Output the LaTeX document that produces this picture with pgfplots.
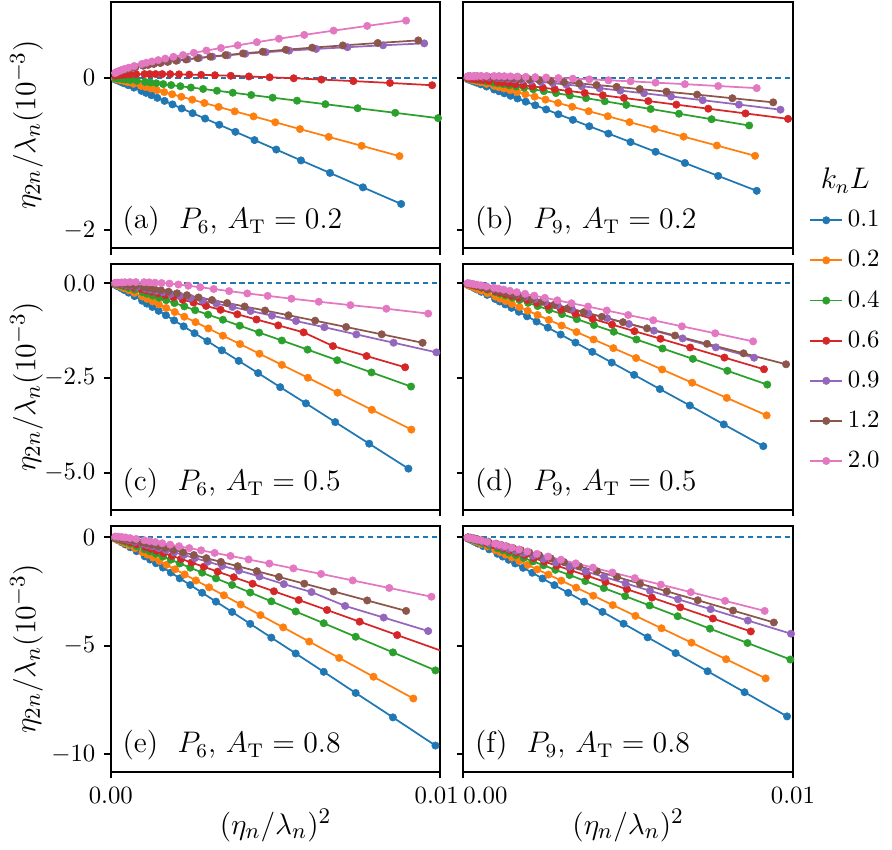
\documentclass[border=0pt]{standalone}
\usepackage{pgfplots}
\pgfplotsset{compat=1.18}
\usepgfplotslibrary{groupplots}
\definecolor{c0}{HTML}{1F77B4}
\definecolor{c1}{HTML}{FF7F0E}
\definecolor{c2}{HTML}{2CA02C}
\definecolor{c3}{HTML}{D62728}
\definecolor{c4}{HTML}{9467BD}
\definecolor{c5}{HTML}{8C564B}
\definecolor{c6}{HTML}{E377C2}
\pgfplotsset{
  ser/.style={color=#1, line width=0.7pt, mark=*, mark size=1.5pt, mark options={solid,fill=#1,draw=#1,line width=0.2pt}},
  zl/.style={forget plot, c0, line width=0.75pt, dash pattern=on 2.2pt off 1.5pt},
}
\newcommand{\plab}[1]{\node[anchor=south west, inner sep=0pt] at (rel axis cs:0.034,0.045) {\fontsize{12}{14}\selectfont #1};}
\begin{document}
\begin{tikzpicture}
\begin{groupplot}[
  group style={group size=2 by 3, horizontal sep=9.3pt, vertical sep=6.4pt, x descriptions at=edge bottom, y descriptions at=edge left},
  scale only axis, width=132.9pt, height=99.2pt,
  xmin=0, xmax=10, xtick={0,10}, xticklabels={$0.00$,$0.01$},
  tick align=outside, tick pos=left, major tick length=2.7pt,
  axis line style={line width=0.8pt},
  major tick style={line width=0.8pt, black},
  xlabel={$(\eta_n/\lambda_n)^2$}, ylabel={$\eta_{2n}/\lambda_n(10^{-3})$},
  xlabel style={at={(axis description cs:0.5,-0.218)}, anchor=center, font=\fontsize{12.4}{15}\selectfont},
  ylabel style={at={(axis description cs:-0.256,0.5)}, anchor=center, font=\fontsize{12.6}{15}\selectfont},
  legend image code/.code={\draw[mark repeat=2,mark phase=2] plot coordinates {(0pt,0pt) (6.4pt,0pt) (12.8pt,0pt)};},
]
% (a)
\nextgroupplot[ymin=-2.23, ymax=0.99, ytick={-2,0}]
\addplot[zl] coordinates {(0,0) (10,0)};
\addplot[ser=c0] coordinates {(8.81,-1.654) (7.65,-1.437) (6.65,-1.248) (5.77,-1.084) (5.02,-0.942) (4.36,-0.818) (3.78,-0.710) (3.29,-0.617) (2.86,-0.536) (2.48,-0.466) (2.15,-0.404) (1.87,-0.351) (1.63,-0.305) (1.41,-0.265) (1.23,-0.230) (1.07,-0.200) (0.93,-0.174) (0.70,-0.131) (0.53,-0.099) (0.40,-0.075) (0.30,-0.056) (0.20,-0.037) (0.13,-0.024)};
\addplot[ser=c1] coordinates {(8.76,-1.028) (7.61,-0.893) (6.61,-0.776) (5.74,-0.674) (4.99,-0.585) (4.33,-0.508) (3.76,-0.442) (3.27,-0.384) (2.84,-0.333) (2.47,-0.289) (2.14,-0.251) (1.86,-0.218) (1.62,-0.190) (1.40,-0.165) (1.22,-0.143) (1.06,-0.124) (0.92,-0.108) (0.69,-0.081) (0.52,-0.062) (0.40,-0.046) (0.30,-0.035) (0.20,-0.023) (0.13,-0.015)};
\addplot[ser=c2] coordinates {(9.93,-0.531) (8.63,-0.461) (7.49,-0.401) (6.51,-0.348) (5.65,-0.302) (4.91,-0.263) (4.26,-0.228) (3.70,-0.198) (3.22,-0.172) (2.80,-0.149) (2.43,-0.130) (2.11,-0.113) (1.83,-0.098) (1.59,-0.085) (1.38,-0.074) (1.20,-0.064) (1.04,-0.056) (0.79,-0.042) (0.59,-0.032) (0.45,-0.024) (0.34,-0.018) (0.22,-0.012) (0.14,-0.008)};
\addplot[ser=c3] coordinates {(9.75,-0.100) (8.47,-0.070) (7.36,-0.046) (6.39,-0.026) (5.55,-0.009) (4.82,0.004) (4.19,0.015) (3.64,0.024) (3.16,0.031) (2.74,0.036) (2.38,0.040) (2.07,0.043) (1.80,0.045) (1.56,0.046) (1.36,0.046) (1.18,0.046) (1.02,0.046) (0.77,0.044) (0.58,0.042) (0.44,0.039) (0.33,0.035) (0.22,0.031) (0.14,0.026)};
\addplot[ser=c4] coordinates {(9.51,0.448) (8.26,0.423) (7.18,0.398) (6.23,0.375) (5.41,0.353) (4.70,0.332) (4.08,0.312) (3.55,0.292) (3.08,0.274) (2.68,0.257) (2.33,0.241) (2.02,0.226) (1.75,0.212) (1.52,0.198) (1.32,0.186) (1.15,0.174) (1.00,0.163) (0.75,0.142) (0.57,0.124) (0.43,0.108) (0.32,0.095) (0.21,0.077) (0.14,0.063)};
\addplot[ser=c5] coordinates {(9.33,0.487) (8.10,0.453) (7.04,0.421) (6.11,0.392) (5.31,0.365) (4.61,0.339) (4.01,0.316) (3.48,0.294) (3.02,0.274) (2.63,0.255) (2.28,0.237) (1.98,0.221) (1.72,0.206) (1.50,0.191) (1.30,0.178) (1.13,0.166) (0.98,0.155) (0.74,0.134) (0.56,0.116) (0.42,0.101) (0.32,0.088) (0.21,0.071) (0.14,0.057)};
\addplot[ser=c6] coordinates {(8.96,0.746) (7.78,0.677) (6.76,0.615) (5.87,0.559) (5.10,0.509) (4.43,0.464) (3.85,0.423) (3.34,0.387) (2.90,0.354) (2.52,0.324) (2.19,0.296) (1.90,0.272) (1.65,0.249) (1.44,0.229) (1.25,0.211) (1.08,0.194) (0.94,0.178) (0.71,0.151) (0.54,0.129) (0.40,0.110) (0.30,0.094) (0.20,0.075) (0.13,0.059)};
\plab{(a)\ \ $P_6$, $A_{\mathrm{T}}=0.2$}
% (b)
\nextgroupplot[ymin=-2.23, ymax=0.99, ytick={-2,0},
  legend style={draw=none, fill=none, at={(1.026,0.196)}, anchor=north west, row sep=4pt, cells={anchor=west}}]
\addplot[zl] coordinates {(0,0) (10,0)};
\addplot[ser=c0] coordinates {(8.90,-1.482) (7.73,-1.287) (6.72,-1.118) (5.83,-0.971) (5.07,-0.844) (4.40,-0.733) (3.82,-0.637) (3.32,-0.553) (2.88,-0.480) (2.51,-0.417) (2.18,-0.362) (1.89,-0.315) (1.64,-0.273) (1.43,-0.238) (1.24,-0.206) (1.08,-0.179) (0.93,-0.156) (0.70,-0.117) (0.53,-0.089) (0.40,-0.067) (0.30,-0.050) (0.20,-0.033) (0.13,-0.022)};
\addplot[ser=c1] coordinates {(8.85,-1.024) (7.69,-0.889) (6.68,-0.773) (5.80,-0.671) (5.04,-0.583) (4.38,-0.506) (3.80,-0.440) (3.30,-0.382) (2.87,-0.332) (2.49,-0.288) (2.16,-0.250) (1.88,-0.218) (1.63,-0.189) (1.42,-0.164) (1.23,-0.143) (1.07,-0.124) (0.93,-0.108) (0.70,-0.081) (0.53,-0.061) (0.40,-0.046) (0.30,-0.035) (0.20,-0.023) (0.13,-0.015)};
\addplot[ser=c2] coordinates {(8.67,-0.627) (7.53,-0.545) (6.54,-0.473) (5.68,-0.411) (4.94,-0.357) (4.29,-0.310) (3.72,-0.269) (3.23,-0.234) (2.81,-0.203) (2.44,-0.177) (2.12,-0.153) (1.84,-0.133) (1.60,-0.116) (1.39,-0.101) (1.21,-0.087) (1.05,-0.076) (0.91,-0.066) (0.69,-0.050) (0.52,-0.037) (0.39,-0.028) (0.29,-0.021) (0.19,-0.014) (0.13,-0.009)};
\addplot[ser=c3] coordinates {(9.85,-0.540) (8.56,-0.469) (7.43,-0.407) (6.46,-0.354) (5.61,-0.307) (4.87,-0.267) (4.23,-0.232) (3.68,-0.201) (3.19,-0.175) (2.77,-0.152) (2.41,-0.132) (2.09,-0.115) (1.82,-0.100) (1.58,-0.087) (1.37,-0.075) (1.19,-0.065) (1.03,-0.057) (0.78,-0.043) (0.59,-0.032) (0.44,-0.024) (0.33,-0.018) (0.22,-0.012) (0.14,-0.008)};
\addplot[ser=c4] coordinates {(9.62,-0.420) (8.36,-0.353) (7.26,-0.296) (6.30,-0.247) (5.48,-0.205) (4.76,-0.170) (4.13,-0.139) (3.59,-0.113) (3.12,-0.091) (2.71,-0.073) (2.35,-0.057) (2.04,-0.044) (1.77,-0.033) (1.54,-0.023) (1.34,-0.016) (1.16,-0.009) (1.01,-0.004) (0.76,0.004) (0.58,0.009) (0.43,0.012) (0.33,0.013) (0.21,0.014) (0.14,0.013)};
\addplot[ser=c5] coordinates {(9.40,-0.324) (8.16,-0.270) (7.09,-0.223) (6.16,-0.184) (5.35,-0.150) (4.65,-0.121) (4.04,-0.097) (3.51,-0.077) (3.05,-0.059) (2.65,-0.045) (2.30,-0.033) (2.00,-0.023) (1.73,-0.014) (1.51,-0.007) (1.31,-0.002) (1.14,0.003) (0.99,0.007) (0.74,0.012) (0.56,0.015) (0.42,0.017) (0.32,0.017) (0.21,0.016) (0.14,0.015)};
\addplot[ser=c6] coordinates {(8.90,-0.138) (7.73,-0.110) (6.72,-0.086) (5.83,-0.066) (5.07,-0.049) (4.40,-0.035) (3.82,-0.023) (3.32,-0.014) (2.88,-0.006) (2.51,0.001) (2.18,0.006) (1.89,0.010) (1.64,0.014) (1.43,0.016) (1.24,0.018) (1.08,0.020) (0.93,0.021) (0.70,0.021) (0.53,0.021) (0.40,0.021) (0.30,0.019) (0.20,0.017) (0.13,0.015)};
\legend{0.1,0.2,0.4,0.6,0.9,1.2,2.0}
\plab{(b)\ \ $P_9$, $A_{\mathrm{T}}=0.2$}
% (c)
\nextgroupplot[ymin=-5.98, ymax=0.51, ytick={-5,-2.5,0}, yticklabel style={/pgf/number format/.cd,fixed,fixed zerofill,precision=1}]
\addplot[zl] coordinates {(0,0) (10,0)};
\addplot[ser=c0] coordinates {(9.03,-4.894) (7.84,-4.236) (6.81,-3.667) (5.92,-3.172) (5.14,-2.744) (4.47,-2.373) (3.88,-2.051) (3.37,-1.772) (2.93,-1.530) (2.54,-1.321) (2.21,-1.140) (1.92,-0.983) (1.67,-0.847) (1.45,-0.730) (1.26,-0.628) (1.09,-0.540) (0.95,-0.464) (0.72,-0.342) (0.54,-0.251) (0.41,-0.183) (0.31,-0.132) (0.20,-0.080) (0.13,-0.047)};
\addplot[ser=c1] coordinates {(9.12,-3.864) (7.92,-3.341) (6.88,-2.889) (5.98,-2.496) (5.19,-2.156) (4.51,-1.862) (3.92,-1.607) (3.40,-1.386) (2.96,-1.195) (2.57,-1.029) (2.23,-0.886) (1.94,-0.762) (1.68,-0.655) (1.46,-0.563) (1.27,-0.483) (1.10,-0.414) (0.96,-0.354) (0.72,-0.258) (0.55,-0.188) (0.41,-0.135) (0.31,-0.096) (0.20,-0.056) (0.13,-0.031)};
\addplot[ser=c2] coordinates {(9.11,-2.728) (7.91,-2.356) (6.87,-2.034) (5.97,-1.754) (5.19,-1.513) (4.50,-1.304) (3.91,-1.122) (3.40,-0.966) (2.95,-0.831) (2.56,-0.714) (2.23,-0.612) (1.93,-0.525) (1.68,-0.450) (1.46,-0.385) (1.27,-0.329) (1.10,-0.280) (0.96,-0.239) (0.72,-0.172) (0.54,-0.123) (0.41,-0.087) (0.31,-0.060) (0.20,-0.033) (0.13,-0.017)};
\addplot[ser=c3] coordinates {(8.93,-2.220) (7.76,-1.923) (6.74,-1.660) (5.85,-1.298) (5.08,-1.115) (4.42,-0.959) (3.84,-0.822) (3.33,-0.703) (2.89,-0.601) (2.51,-0.513) (2.18,-0.438) (1.90,-0.374) (1.65,-0.318) (1.43,-0.269) (1.24,-0.227) (1.08,-0.192) (0.94,-0.162) (0.71,-0.114) (0.53,-0.077) (0.40,-0.051) (0.30,-0.033) (0.20,-0.015) (0.13,-0.004)};
\addplot[ser=c4] coordinates {(9.88,-1.826) (8.58,-1.572) (7.45,-1.353) (6.48,-1.163) (5.62,-0.999) (4.89,-0.857) (4.24,-0.735) (3.69,-0.629) (3.20,-0.538) (2.78,-0.459) (2.42,-0.391) (2.10,-0.333) (1.82,-0.283) (1.58,-0.240) (1.38,-0.203) (1.19,-0.171) (1.04,-0.144) (0.78,-0.100) (0.59,-0.069) (0.45,-0.046) (0.34,-0.029) (0.22,-0.013) (0.14,-0.003)};
\addplot[ser=c5] coordinates {(9.46,-1.574) (8.22,-1.350) (7.14,-1.157) (6.20,-0.990) (5.39,-0.847) (4.68,-0.722) (4.06,-0.616) (3.53,-0.524) (3.07,-0.445) (2.66,-0.377) (2.31,-0.318) (2.01,-0.268) (1.75,-0.225) (1.52,-0.188) (1.32,-0.157) (1.14,-0.130) (0.99,-0.107) (0.75,-0.071) (0.57,-0.045) (0.43,-0.026) (0.32,-0.013) (0.21,-0.001) (0.14,0.005)};
\addplot[ser=c6] coordinates {(9.63,-0.803) (8.36,-0.675) (7.27,-0.580) (6.31,-0.490) (5.48,-0.410) (4.76,-0.335) (4.14,-0.272) (3.59,-0.210) (3.12,-0.155) (2.71,-0.108) (2.35,-0.068) (2.05,-0.036) (1.78,-0.012) (1.54,0.002) (1.34,0.012) (1.16,0.020) (1.01,0.025) (0.76,0.028) (0.58,0.027) (0.43,0.024) (0.33,0.020) (0.21,0.015) (0.14,0.011)};
\plab{(c)\ \ $P_6$, $A_{\mathrm{T}}=0.5$}
% (d)
\nextgroupplot[ymin=-5.98, ymax=0.51, ytick={-5,-2.5,0}]
\addplot[zl] coordinates {(0,0) (10,0)};
\addplot[ser=c0] coordinates {(9.10,-4.302) (7.90,-3.727) (6.87,-3.228) (5.96,-2.795) (5.18,-2.420) (4.50,-2.095) (3.91,-1.812) (3.40,-1.568) (2.95,-1.356) (2.56,-1.172) (2.22,-1.013) (1.93,-0.875) (1.68,-0.755) (1.46,-0.652) (1.27,-0.562) (1.10,-0.484) (0.96,-0.417) (0.72,-0.309) (0.54,-0.228) (0.41,-0.168) (0.31,-0.123) (0.20,-0.076) (0.13,-0.046)};
\addplot[ser=c1] coordinates {(9.20,-3.489) (7.99,-3.027) (6.94,-2.627) (6.03,-2.279) (5.24,-1.977) (4.55,-1.715) (3.95,-1.487) (3.43,-1.290) (2.98,-1.119) (2.59,-0.970) (2.25,-0.840) (1.95,-0.729) (1.70,-0.631) (1.47,-0.547) (1.28,-0.474) (1.11,-0.411) (0.97,-0.356) (0.73,-0.266) (0.55,-0.200) (0.41,-0.149) (0.31,-0.111) (0.21,-0.071) (0.13,-0.046)};
\addplot[ser=c2] coordinates {(9.22,-2.677) (8.01,-2.313) (6.96,-1.997) (6.04,-1.724) (5.25,-1.487) (4.56,-1.282) (3.96,-1.105) (3.44,-0.951) (2.99,-0.818) (2.60,-0.704) (2.25,-0.604) (1.96,-0.519) (1.70,-0.445) (1.48,-0.381) (1.28,-0.326) (1.11,-0.278) (0.97,-0.237) (0.73,-0.172) (0.55,-0.123) (0.42,-0.087) (0.31,-0.061) (0.21,-0.034) (0.13,-0.018)};
\addplot[ser=c3] coordinates {(9.12,-2.272) (7.92,-1.964) (6.88,-1.698) (5.98,-1.467) (5.19,-1.267) (4.51,-1.093) (3.92,-0.943) (3.40,-0.813) (2.96,-0.701) (2.57,-0.603) (2.23,-0.519) (1.94,-0.446) (1.68,-0.384) (1.46,-0.329) (1.27,-0.282) (1.10,-0.242) (0.96,-0.207) (0.72,-0.150) (0.55,-0.109) (0.41,-0.078) (0.31,-0.055) (0.20,-0.032) (0.13,-0.018)};
\addplot[ser=c4] coordinates {(8.82,-1.967) (7.66,-1.694) (6.65,-1.458) (5.78,-1.253) (5.02,-1.077) (4.36,-0.924) (3.79,-0.792) (3.29,-0.678) (2.86,-0.581) (2.48,-0.496) (2.16,-0.423) (1.87,-0.360) (1.63,-0.306) (1.41,-0.260) (1.23,-0.220) (1.07,-0.185) (0.93,-0.156) (0.70,-0.109) (0.53,-0.075) (0.40,-0.050) (0.30,-0.032) (0.20,-0.014) (0.13,-0.004)};
\addplot[ser=c5] coordinates {(9.79,-2.141) (8.50,-1.851) (7.39,-1.600) (6.42,-1.382) (5.57,-1.193) (4.84,-1.030) (4.20,-0.888) (3.65,-0.766) (3.17,-0.660) (2.76,-0.568) (2.39,-0.489) (2.08,-0.420) (1.81,-0.361) (1.57,-0.310) (1.36,-0.266) (1.18,-0.228) (1.03,-0.195) (0.78,-0.142) (0.59,-0.103) (0.44,-0.074) (0.33,-0.052) (0.22,-0.030) (0.14,-0.017)};
\addplot[ser=c6] coordinates {(8.79,-1.537) (7.64,-1.323) (6.63,-1.139) (5.76,-0.979) (5.00,-0.841) (4.35,-0.722) (3.78,-0.618) (3.28,-0.530) (2.85,-0.453) (2.47,-0.387) (2.15,-0.330) (1.87,-0.281) (1.62,-0.238) (1.41,-0.202) (1.22,-0.171) (1.06,-0.144) (0.92,-0.121) (0.70,-0.085) (0.53,-0.058) (0.40,-0.039) (0.30,-0.025) (0.20,-0.011) (0.13,-0.003)};
\plab{(d)\ \ $P_9$, $A_{\mathrm{T}}=0.5$}
% (e)
\nextgroupplot[ymin=-10.79, ymax=0.53, ytick={-10,-5,0}, xticklabels={$0.00$,\hspace*{-3pt}$0.01$}]
\addplot[zl] coordinates {(0,0) (10,0)};
\addplot[ser=c0] coordinates {(9.85,-9.589) (8.56,-8.292) (7.43,-7.169) (6.46,-6.196) (5.61,-5.352) (4.87,-4.622) (4.23,-3.988) (3.68,-3.441) (3.19,-2.966) (2.77,-2.556) (2.41,-2.200) (2.09,-1.894) (1.82,-1.628) (1.58,-1.399) (1.37,-1.200) (1.19,-1.029) (1.03,-0.880) (0.78,-0.643) (0.59,-0.467) (0.44,-0.336) (0.33,-0.239) (0.22,-0.141) (0.14,-0.079)};
\addplot[ser=c1] coordinates {(9.18,-7.424) (7.97,-6.423) (6.93,-5.556) (6.02,-4.804) (5.23,-4.152) (4.54,-3.587) (3.94,-3.098) (3.43,-2.675) (2.98,-2.308) (2.58,-1.990) (2.24,-1.715) (1.95,-1.477) (1.69,-1.272) (1.47,-1.094) (1.28,-0.940) (1.11,-0.807) (0.96,-0.692) (0.73,-0.507) (0.55,-0.370) (0.41,-0.268) (0.31,-0.192) (0.20,-0.115) (0.13,-0.066)};
\addplot[ser=c2] coordinates {(9.85,-6.131) (8.56,-5.301) (7.43,-4.582) (6.46,-3.960) (5.61,-3.420) (4.87,-2.952) (4.23,-2.547) (3.68,-2.197) (3.19,-1.894) (2.77,-1.631) (2.41,-1.404) (2.09,-1.207) (1.82,-1.037) (1.58,-0.892) (1.37,-0.764) (1.19,-0.655) (1.03,-0.560) (0.78,-0.409) (0.59,-0.296) (0.44,-0.213) (0.33,-0.151) (0.22,-0.088) (0.14,-0.049)};
\addplot[ser=c3] coordinates {(10.01,-5.219) (8.69,-4.506) (7.55,-3.888) (6.56,-3.353) (5.70,-2.890) (4.95,-2.490) (4.30,-2.143) (3.73,-1.844) (3.24,-1.585) (2.82,-1.361) (2.45,-1.167) (2.13,-1.000) (1.85,-0.856) (1.60,-0.732) (1.39,-0.624) (1.21,-0.532) (1.05,-0.453) (0.79,-0.325) (0.60,-0.231) (0.45,-0.162) (0.34,-0.112) (0.22,-0.061) (0.15,-0.030)};
\addplot[ser=c4] coordinates {(9.63,-4.320) (8.28,-3.699) (7.11,-3.164) (6.09,-2.525) (5.25,-2.160) (4.51,-1.808) (3.89,-1.534) (3.38,-1.320) (2.94,-1.129) (2.55,-0.964) (2.21,-0.821) (1.92,-0.699) (1.67,-0.593) (1.45,-0.503) (1.26,-0.425) (1.10,-0.358) (0.95,-0.300) (0.72,-0.209) (0.54,-0.143) (0.41,-0.095) (0.31,-0.060) (0.20,-0.026) (0.13,-0.006)};
\addplot[ser=c5] coordinates {(8.96,-3.392) (7.78,-2.912) (6.76,-2.497) (5.87,-2.139) (5.10,-1.830) (4.43,-1.564) (3.85,-1.334) (3.34,-1.136) (2.90,-0.966) (2.52,-0.820) (2.19,-0.694) (1.90,-0.586) (1.65,-0.493) (1.44,-0.413) (1.25,-0.345) (1.08,-0.287) (0.94,-0.237) (0.71,-0.159) (0.54,-0.102) (0.40,-0.062) (0.30,-0.034) (0.20,-0.007) (0.13,0.008)};
\addplot[ser=c6] coordinates {(9.73,-2.740) (8.45,-2.338) (7.34,-1.991) (6.38,-1.692) (5.54,-1.436) (4.81,-1.215) (4.18,-1.026) (3.63,-0.863) (3.15,-0.724) (2.74,-0.605) (2.38,-0.503) (2.07,-0.416) (1.80,-0.342) (1.56,-0.279) (1.35,-0.225) (1.18,-0.180) (1.02,-0.141) (0.77,-0.082) (0.58,-0.040) (0.44,-0.012) (0.33,0.008) (0.22,0.024) (0.14,0.031)};
\plab{(e)\ \ $P_6$, $A_{\mathrm{T}}=0.8$}
% (f)
\nextgroupplot[ymin=-10.79, ymax=0.53, ytick={-10,-5,0}, xticklabels={\makebox[0pt][l]{$0.00$},$0.01$}]
\addplot[zl] coordinates {(0,0) (10,0)};
\addplot[ser=c0] coordinates {(9.82,-8.247) (8.53,-7.134) (7.41,-6.170) (6.44,-5.334) (5.59,-4.609) (4.86,-3.982) (4.22,-3.437) (3.66,-2.967) (3.18,-2.560) (2.76,-2.207) (2.40,-1.901) (2.09,-1.637) (1.81,-1.409) (1.57,-1.211) (1.37,-1.040) (1.19,-0.892) (1.03,-0.764) (0.78,-0.560) (0.59,-0.408) (0.44,-0.295) (0.33,-0.211) (0.22,-0.125) (0.14,-0.071)};
\addplot[ser=c1] coordinates {(9.17,-6.497) (7.97,-5.616) (6.92,-4.853) (6.01,-4.192) (5.22,-3.620) (4.53,-3.124) (3.94,-2.694) (3.42,-2.322) (2.97,-2.001) (2.58,-1.722) (2.24,-1.482) (1.95,-1.274) (1.69,-1.094) (1.47,-0.939) (1.28,-0.805) (1.11,-0.689) (0.96,-0.589) (0.73,-0.428) (0.55,-0.310) (0.41,-0.221) (0.31,-0.156) (0.20,-0.091) (0.13,-0.049)};
\addplot[ser=c2] coordinates {(9.92,-5.630) (8.62,-4.869) (7.48,-4.210) (6.50,-3.638) (5.65,-3.144) (4.91,-2.715) (4.26,-2.343) (3.70,-2.022) (3.22,-1.743) (2.79,-1.502) (2.43,-1.293) (2.11,-1.113) (1.83,-0.957) (1.59,-0.823) (1.38,-0.706) (1.20,-0.605) (1.04,-0.518) (0.79,-0.379) (0.59,-0.275) (0.45,-0.198) (0.34,-0.141) (0.22,-0.083) (0.14,-0.047)};
\addplot[ser=c3] coordinates {(8.72,-4.338) (7.57,-3.743) (6.58,-3.227) (5.72,-2.781) (4.96,-2.396) (4.31,-2.062) (3.75,-1.773) (3.25,-1.523) (2.83,-1.308) (2.45,-1.121) (2.13,-0.961) (1.85,-0.823) (1.61,-0.702) (1.40,-0.599) (1.21,-0.510) (1.05,-0.434) (0.92,-0.368) (0.69,-0.263) (0.52,-0.186) (0.39,-0.129) (0.30,-0.087) (0.19,-0.046) (0.13,-0.021)};
\addplot[ser=c4] coordinates {(9.94,-4.442) (8.63,-3.836) (7.50,-3.312) (6.51,-2.858) (5.66,-2.465) (4.92,-2.125) (4.27,-1.830) (3.71,-1.576) (3.22,-1.355) (2.80,-1.165) (2.43,-1.000) (2.11,-0.858) (1.83,-0.735) (1.59,-0.630) (1.38,-0.538) (1.20,-0.459) (1.04,-0.391) (0.79,-0.282) (0.59,-0.202) (0.45,-0.143) (0.34,-0.099) (0.22,-0.055) (0.15,-0.028)};
\addplot[ser=c5] coordinates {(9.42,-3.926) (8.18,-3.377) (7.11,-2.902) (6.17,-2.492) (5.36,-2.138) (4.66,-1.832) (4.05,-1.567) (3.51,-1.340) (3.05,-1.143) (2.65,-0.974) (2.30,-0.828) (2.00,-0.703) (1.74,-0.596) (1.51,-0.503) (1.31,-0.423) (1.14,-0.355) (0.99,-0.297) (0.75,-0.205) (0.56,-0.138) (0.42,-0.089) (0.32,-0.054) (0.21,-0.021) (0.14,-0.001)};
\addplot[ser=c6] coordinates {(9.14,-3.393) (7.94,-2.931) (6.90,-2.531) (5.99,-2.184) (5.20,-1.884) (4.52,-1.625) (3.93,-1.400) (3.41,-1.206) (2.96,-1.037) (2.57,-0.892) (2.23,-0.766) (1.94,-0.658) (1.69,-0.564) (1.47,-0.483) (1.27,-0.413) (1.11,-0.353) (0.96,-0.301) (0.72,-0.217) (0.55,-0.156) (0.41,-0.111) (0.31,-0.077) (0.20,-0.043) (0.13,-0.023)};
\plab{(f)\ \ $P_9$, $A_{\mathrm{T}}=0.8$}
\end{groupplot}
\node at ([xshift=21.1pt,yshift=27.1pt]group c2r1.south east) {\large $k_nL$};
\path ([xshift=-44.7pt,yshift=0.8pt]group c1r1.north west) rectangle ([xshift=37.1pt,yshift=-30.8pt]group c2r3.south east);
\end{tikzpicture}
\end{document}
